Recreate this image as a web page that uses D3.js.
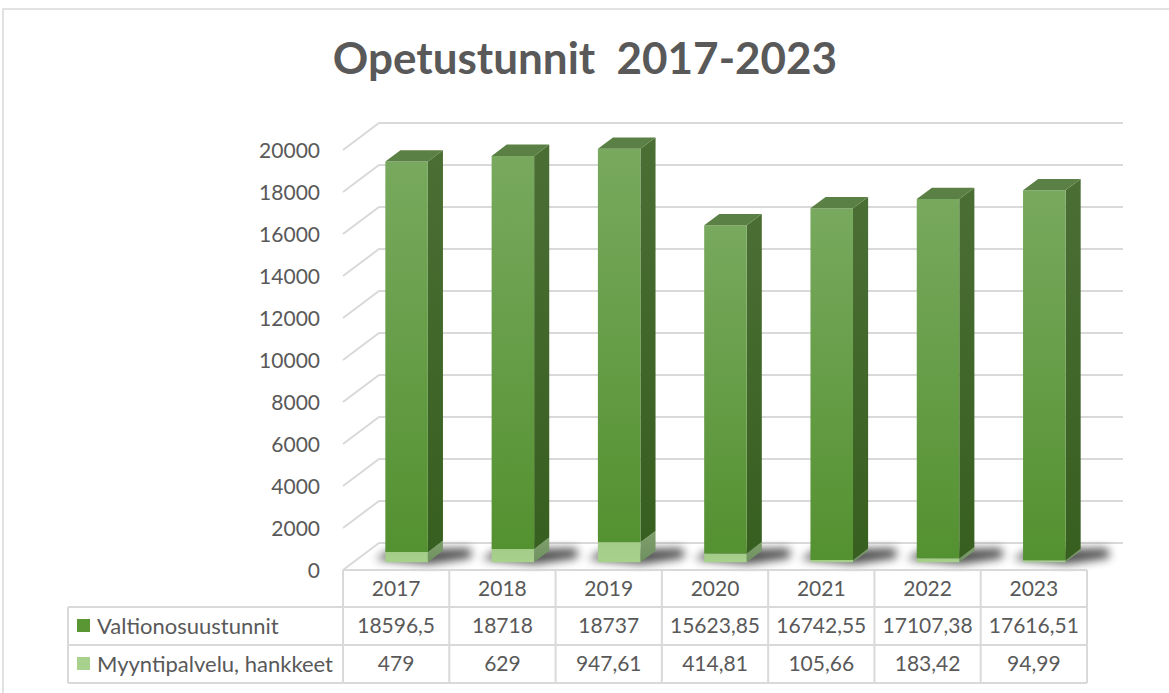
<!DOCTYPE html>
<html>

<head>
  <meta charset="UTF-8">
  <title>Opetustunnit 2017-2023</title>
  <script src="https://d3js.org/d3.v7.min.js"></script>
  <style>
    body {
      margin: 0;
      padding: 0;
      background: white;
    }

    svg {
      display: block;
    }

    text {
      font-family: Lato, "Open Sans", sans-serif;
      fill: #595959;
    }

    .title {
      font-size: 44px;
      font-weight: bold;
    }

    .axis text {
      font-size: 21px;
    }

    .axis .domain {
      display: none;
    }

    .grid {
      fill: none;
      stroke: #d9d9d9;
      stroke-width: 2;
    }

    .cell-line {
      stroke: #d9d9d9;
      stroke-width: 2;
    }

    .cell-text {
      font-size: 21px;
      text-anchor: middle;
    }
  </style>
</head>

<body>
  <svg id="chart" width="1169" height="693"></svg>

  <script>
    // data
    var years = ["2017", "2018", "2019", "2020", "2021", "2022", "2023"];
    var valtio = [18596.5, 18718, 18737, 15623.85, 16742.55, 17107.38, 17616.51];
    var myynti = [479, 629, 947.61, 414.81, 105.66, 183.42, 94.99];
    var valtioLabels = ["18596,5", "18718", "18737", "15623,85", "16742,55", "17107,38", "17616,51"];
    var myyntiLabels = ["479", "629", "947,61", "414,81", "105,66", "183,42", "94,99"];
    var seriesNames = ["Valtionosuustunnit", "Myyntipalvelu, hankkeet"];
    var yTicks = [0, 2000, 4000, 6000, 8000, 10000, 12000, 14000, 16000, 18000, 20000];

    var svg = d3.select("#chart");

    // depth offset of the 3d box
    var depthX = 36, depthY = -27;
    var barD0 = 0.29, barD1 = 0.71;

    var x = d3.scaleBand()
      .domain(years)
      .range([343, 1087])
      .padding(0);

    var y = d3.scaleLinear()
      .domain([0, 20000])
      .range([570, 150]);

    function pt(px, v, d) {
      return [px + depthX * d, y(v) + depthY * d];
    }

    var defs = svg.append("defs");

    function grad(id, c1, c2) {
      var g = defs.append("linearGradient").attr("id", id)
        .attr("x1", 0).attr("y1", 0).attr("x2", 0).attr("y2", 1);
      g.append("stop").attr("offset", "0%").attr("stop-color", c1);
      g.append("stop").attr("offset", "100%").attr("stop-color", c2);
    }
    grad("frontDark", "#78a95e", "#549130");
    grad("sideDark", "#4b6e35", "#375f1f");
    grad("frontLight", "#a3cc89", "#a8d18e");
    grad("sideLight", "#7e9f6b", "#6f9160");

    defs.append("filter").attr("id", "blur")
      .attr("x", "-50%").attr("y", "-50%").attr("width", "200%").attr("height", "200%")
      .append("feGaussianBlur").attr("stdDeviation", 5);

    // outer frame
    svg.append("rect")
      .attr("x", 3).attr("y", 9)
      .attr("width", 1200).attr("height", 700)
      .attr("fill", "none")
      .attr("stroke", "#d9d9d9")
      .attr("stroke-width", 1.5);

    // title
    svg.append("text")
      .attr("class", "title")
      .attr("x", 585)
      .attr("y", 74)
      .attr("text-anchor", "middle")
      .attr("xml:space", "preserve")
      .text("Opetustunnit  2017-2023");

    // gridlines (side wall + back wall)
    svg.append("g").selectAll("path")
      .data(yTicks)
      .enter()
      .append("path")
      .attr("class", "grid")
      .attr("d", function (t) {
        var a = pt(x.range()[0], t, 0), b = pt(x.range()[0], t, 1), c = pt(x.range()[1], t, 1);
        return "M" + a + "L" + b + "L" + c;
      });

    // y axis
    svg.append("g")
      .attr("class", "axis")
      .attr("transform", "translate(343,0)")
      .call(d3.axisLeft(y).tickValues(yTicks).tickSize(0).tickPadding(23).tickFormat(d3.format("d")))
      .selectAll("text")
      .attr("dy", "0.35em");

    // stacked data
    var rows = years.map(function (yr, i) {
      return { year: yr, myynti: myynti[i], valtio: valtio[i] };
    });
    var stack = d3.stack().keys(["myynti", "valtio"])(rows);

    var bw = x.bandwidth() * 0.4;

    // floor shadows
    svg.append("g").selectAll("path")
      .data(rows)
      .enter()
      .append("path")
      .attr("filter", "url(#blur)")
      .attr("fill", "#000")
      .attr("opacity", 0.7)
      .attr("d", function (d) {
        var x0 = x(d.year) + (x.bandwidth() - bw) / 2;
        var x1 = x0 + bw;
        var p = [pt(x0 - 14, 0, 0.4), pt(x1 + 4, 0, 0.22), pt(x1 + 38, 0, 0.45), pt(x1 + 24, 0, 0.8), pt(x0 - 10, 0, 0.75)];
        return "M" + p.join("L") + "Z";
      });

    // bars
    var barG = svg.append("g");
    stack.forEach(function (layer, li) {
      var front = li === 0 ? "url(#frontLight)" : "url(#frontDark)";
      var side = li === 0 ? "url(#sideLight)" : "url(#sideDark)";
      var g = barG.append("g");
      layer.forEach(function (seg, i) {
        var yr = years[i];
        var x0 = x(yr) + (x.bandwidth() - bw) / 2;
        var x1 = x0 + bw;
        var v0 = seg[0], v1 = seg[1];
        // side face
        var s = [pt(x1, v0, barD0), pt(x1, v0, barD1), pt(x1, v1, barD1), pt(x1, v1, barD0)];
        g.append("path").attr("d", "M" + s.join("L") + "Z").attr("fill", side);
        // front face
        var f = [pt(x0, v0, barD0), pt(x1, v0, barD0), pt(x1, v1, barD0), pt(x0, v1, barD0)];
        g.append("path").attr("d", "M" + f.join("L") + "Z").attr("fill", front);
        // top face (only on top segment)
        if (li === stack.length - 1) {
          var t = [pt(x0, v1, barD0), pt(x1, v1, barD0), pt(x1, v1, barD1), pt(x0, v1, barD1)];
          g.append("path").attr("d", "M" + t.join("L") + "Z").attr("fill", "#5b8045");
        }
      });
    });

    // data table
    var table = svg.append("g");
    var rowY = [570, 607, 645, 683];
    var left = 68;

    // horizontal lines
    table.append("line").attr("class", "cell-line")
      .attr("x1", x.range()[0]).attr("x2", x.range()[1]).attr("y1", rowY[0]).attr("y2", rowY[0]);
    [1, 2, 3].forEach(function (r) {
      table.append("line").attr("class", "cell-line")
        .attr("x1", left).attr("x2", x.range()[1]).attr("y1", rowY[r]).attr("y2", rowY[r]);
    });
    // vertical lines
    years.concat(["end"]).forEach(function (yr, i) {
      var px = i < years.length ? x(yr) : x.range()[1];
      table.append("line").attr("class", "cell-line")
        .attr("x1", px).attr("x2", px).attr("y1", rowY[0]).attr("y2", rowY[3]);
    });
    table.append("line").attr("class", "cell-line")
      .attr("x1", left).attr("x2", left).attr("y1", rowY[1]).attr("y2", rowY[3]);

    var cellRows = [years, valtioLabels, myyntiLabels];
    cellRows.forEach(function (vals, r) {
      table.selectAll(".r" + r)
        .data(vals)
        .enter()
        .append("text")
        .attr("class", "cell-text")
        .attr("x", function (d, i) { return x(years[i]) + x.bandwidth() / 2; })
        .attr("y", (rowY[r] + rowY[r + 1]) / 2)
        .attr("dy", "0.35em")
        .text(function (d) { return d; });
    });

    // legend cells
    var legendColors = ["#5a9634", "#a9d18e"];
    seriesNames.forEach(function (name, i) {
      var cy = (rowY[i + 1] + rowY[i + 2]) / 2;
      table.append("rect")
        .attr("x", 77).attr("y", cy - 7)
        .attr("width", 13).attr("height", 13)
        .attr("fill", legendColors[i]);
      table.append("text")
        .attr("x", 97).attr("y", cy)
        .attr("dy", "0.35em")
        .style("font-size", "22px")
        .text(name);
    });
  </script>
</body>

</html>
